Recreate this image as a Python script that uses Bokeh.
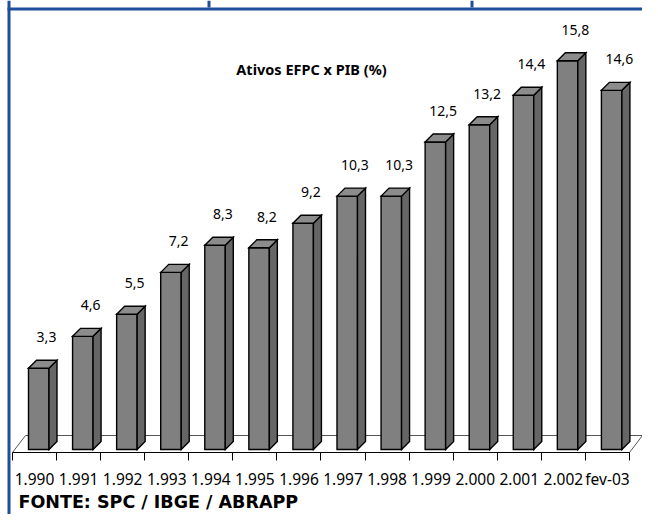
from bokeh.plotting import figure
from bokeh.models import FixedTicker, Range1d, Label, ColumnDataSource
from bokeh.embed import file_html
from bokeh.resources import INLINE
from bokeh.core.properties import value

# ---- data ----
categories = ["1.990", "1.991", "1.992", "1.993", "1.994", "1.995", "1.996",
              "1.997", "1.998", "1.999", "2.000", "2.001", "2.002", "fev-03"]
values = [3.3, 4.6, 5.5, 7.2, 8.3, 8.2, 9.2, 10.3, 10.3, 12.5, 13.2, 14.4, 15.8, 14.6]
value_labels = ["3,3", "4,6", "5,5", "7,2", "8,3", "8,2", "9,2",
                "10,3", "10,3", "12,5", "13,2", "14,4", "15,8", "14,6"]
chart_title = "Ativos EFPC x PIB (%)"
source_note = "FONTE: SPC / IBGE / ABRAPP"

# ---- layout constants (pixels) ----
W, H = 642, 514
n = len(values)
PX_X = 44.07          # pixels per category
PX_Y = 24.6           # pixels per value unit
AXIS_PY = 452         # canvas y of the floor's front edge
ZERO_PY = AXIS_PY - 3 # canvas y of the bars' base
XL = -0.5 - 12 / PX_X
XR = XL + W / PX_X
YT = ZERO_PY / PX_Y
YB = (ZERO_PY - H) / PX_Y
Y0 = -3 / PX_Y


def dx(px):
    return px / PX_X


def dy(px):
    return px / PX_Y


def cx(px):
    return XL + px / PX_X


def cy(py):
    return (ZERO_PY - py) / PX_Y


BLUE = "#1f4e9a"
FONT = "Noto Sans"

p = figure(frame_width=W, frame_height=H,
           x_range=Range1d(XL, XR), y_range=Range1d(YB, YT),
           output_backend="svg", toolbar_location=None, min_border=0,
           background_fill_color="white", border_fill_color="white")
p.outline_line_color = None
p.grid.visible = False
p.yaxis.visible = False

# page rules (blue): left rule, top rule, cell separators of the top strip
p.quad(left=[cx(7), cx(7), cx(207), cx(470)],
       right=[cx(10), cx(W), cx(210), cx(473)],
       top=[cy(0), cy(7), cy(0), cy(0)],
       bottom=[cy(H), cy(10), cy(7), cy(7)],
       fill_color=BLUE, line_color=None)

# floor
fx = [-0.5, n - 0.5, n - 0.5 + dx(13), -0.5 + dx(13)]
fy = [Y0, Y0, Y0 + dy(17), Y0 + dy(17)]
p.patch(fx, fy, fill_color="white", line_color="#555555", line_width=1)

# bars (3D look)
xl = [i - 0.5 + dx(16) for i in range(n)]
xr = [x + dx(20.5) for x in xl]
ddx, ddy = dx(8), dy(8)

side_xs = [[r, r + ddx, r + ddx, r] for r in xr]
side_ys = [[0, ddy, v + ddy, v] for v in values]
top_xs = [[l, l + ddx, r + ddx, r] for l, r in zip(xl, xr)]
top_ys = [[v, v + ddy, v + ddy, v] for v in values]

p.quad(left=xl, right=xr, bottom=0, top=values, fill_color="#808080",
       line_color="black", line_width=1.4, line_join="miter")
p.patches(side_xs, side_ys, fill_color="#666666", line_color="black",
          line_width=1.4, line_join="miter")
p.patches(top_xs, top_ys, fill_color="#8c8c8c", line_color="black",
          line_width=1.4, line_join="miter")

# value labels
lab_src = ColumnDataSource(dict(x=[l + dx(18) for l in xl], y=values, t=value_labels))
p.text(x="x", y="y", text="t", source=lab_src, y_offset=-31,
       text_align="center", text_baseline="middle",
       text_font=value(FONT), text_font_size="14px", text_color="black")

# chart title inside plot
p.add_layout(Label(x=cx(311), y=cy(68), text=chart_title,
                   text_align="center", text_baseline="middle",
                   text_font=FONT, text_font_size="14.5px", text_font_style="bold",
                   text_color="black"))

# source note
p.add_layout(Label(x=cx(18), y=cy(501), text=source_note,
                   text_align="left", text_baseline="middle",
                   text_font="DejaVu Sans", text_font_size="17.5px", text_font_style="bold",
                   text_color="black"))

# x axis drawn along the floor's front edge
ax = p.xaxis[0]
ax.fixed_location = Y0
ax.ticker = FixedTicker(ticks=list(range(n)), minor_ticks=[i - 0.5 for i in range(n + 1)])
ax.bounds = (-0.5, n - 0.5)
ax.major_label_overrides = {i: c for i, c in enumerate(categories)}
ax.major_tick_out = 0
ax.major_tick_in = 0
ax.minor_tick_out = 8
ax.minor_tick_in = 0
ax.minor_tick_line_color = "black"
ax.axis_line_color = "black"
ax.major_label_standoff = 7
ax.major_label_text_font = FONT
ax.major_label_text_font_size = "15.5px"
ax.major_label_text_color = "black"

open("out.html", "w").write(file_html(p, INLINE))
